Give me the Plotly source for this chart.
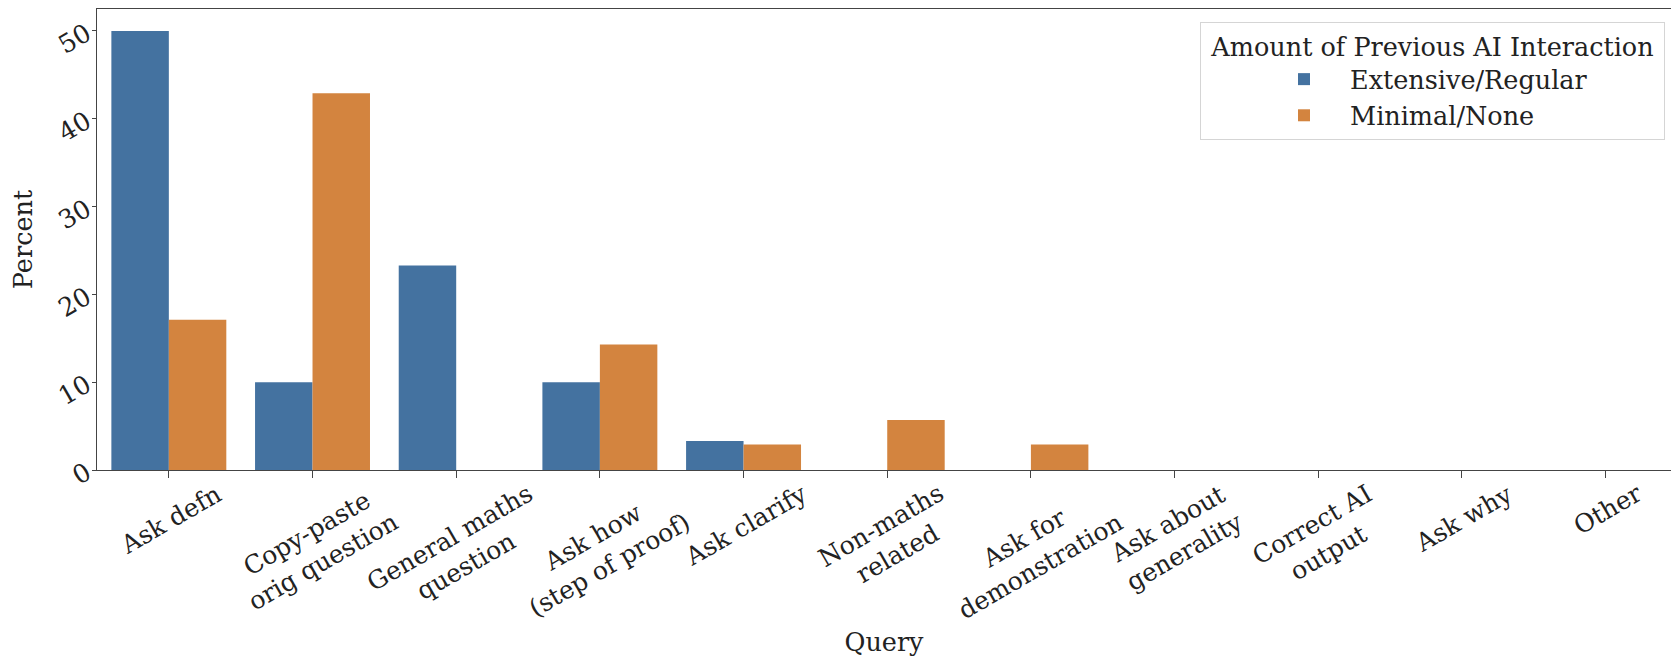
import plotly.graph_objects as go

categories = ["Ask defn", "Copy-paste<br>orig question", "General maths<br>question",
              "Ask how<br>(step of proof)", "Ask clarify", "Non-maths<br>related",
              "Ask for<br>demonstration", "Ask about<br>generality", "Correct AI<br>output",
              "Ask why", "Other"]
extensive = [50.0, 10.0, 23.3, 10.0, 3.3, 0, 0, 0, 0, 0, 0]
minimal = [17.1, 42.9, 0, 14.3, 2.9, 5.7, 2.9, 0, 0, 0, 0]
series_names = ["Extensive/Regular", "Minimal/None"]
colors = ["#4472a0", "#d3843f"]
y_ticks = [0, 10, 20, 30, 40, 50]

FONT = "DejaVu Serif"
FS = 25.5
x_idx = list(range(len(categories)))

fig = go.Figure()
for name, vals, col in zip(series_names, [extensive, minimal], colors):
    fig.add_trace(go.Bar(x=x_idx, y=vals, name=name, marker=dict(color=col, line=dict(width=0))))

for i, lab in enumerate(categories):
    fig.add_annotation(x=i, y=0, xref="x", yref="y", text=lab, showarrow=False,
                       textangle=-30, xanchor="center", yanchor="top", yshift=-6, xshift=2,
                       align="center", font=dict(family=FONT, size=25, color="#222"))

fig.update_layout(
    width=1671, height=657,
    margin=dict(l=97, r=0, t=9, b=187),
    paper_bgcolor="white", plot_bgcolor="white",
    barmode="group", bargap=0.2, bargroupgap=0,
    font=dict(family=FONT, size=FS, color="#222"),
    legend=dict(
        title=dict(text="&nbsp;Amount of Previous AI Interaction&nbsp;", side="top center",
                   font=dict(family=FONT, size=FS)),
        x=0.9962, y=0.972, xanchor="right", yanchor="top",
        bgcolor="white", bordercolor="#d5d5d5", borderwidth=1,
        indentation=57, itemwidth=82, font=dict(family=FONT, size=FS),
    ),
    showlegend=True,
)
fig.update_xaxes(range=[-0.5, 10.455], tickvals=x_idx, showticklabels=False,
                 showline=True, linecolor="#444", linewidth=1.3, mirror=True,
                 ticks="outside", ticklen=7, tickcolor="#444", showgrid=False, zeroline=False,
                 title=dict(text="Query", standoff=160, font=dict(family=FONT, size=FS)))
fig.update_yaxes(range=[0, 52.5], tickvals=y_ticks, tickangle=-30,
                 showline=True, linecolor="#444", linewidth=1.3,
                 ticks="outside", ticklen=4, tickcolor="#444", showgrid=False, zeroline=False,
                 tickfont=dict(family=FONT, size=FS),
                 title=dict(text="Percent", standoff=13, font=dict(family=FONT, size=FS)))

fig.write_html("out.html")
